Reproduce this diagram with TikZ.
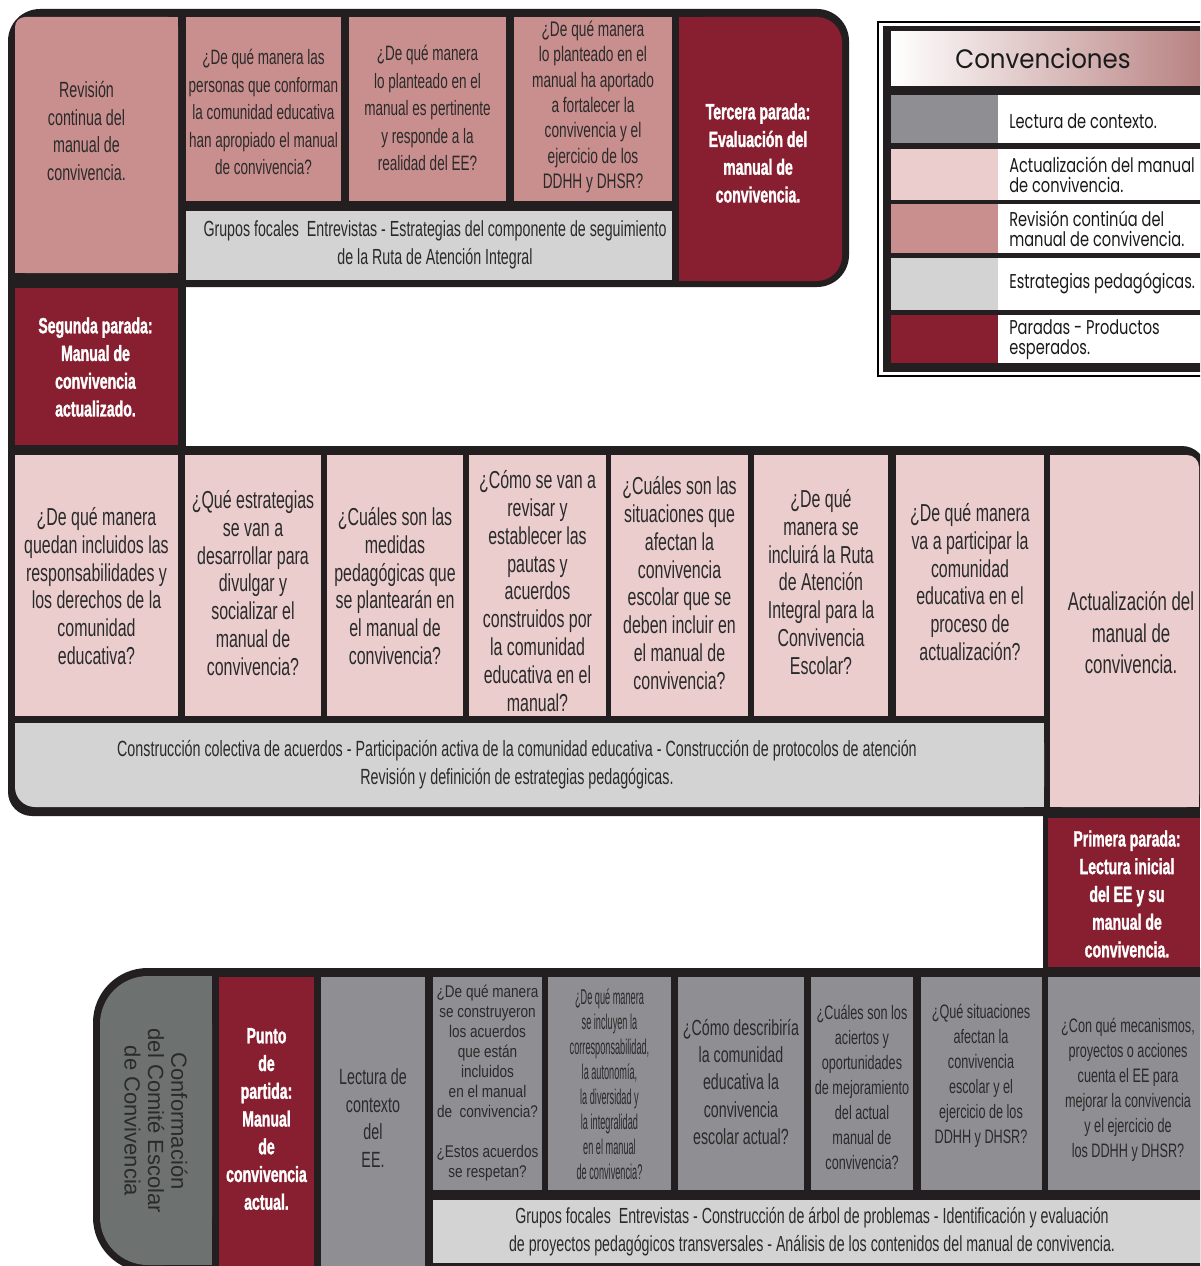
\documentclass[tikz,border=0pt]{standalone}
\usepackage{fontspec}
\setmainfont{Liberation Sans}
\newfontfamily\cond[FakeStretch=0.65]{Liberation Sans}
\newfontfamily\stopfont[FakeStretch=0.64,FakeBold=1.3]{Liberation Sans Bold}
\newfontfamily\semi[FakeStretch=0.8]{Liberation Sans}
\newfontfamily\vcond[FakeStretch=0.43]{Liberation Sans}
\newfontfamily\fut[FakeStretch=0.73]{Poppins}
\newfontfamily\futT[FakeStretch=0.92]{Poppins}
\definecolor{fr}{HTML}{231F20}
\definecolor{parada}{HTML}{871F30}
\definecolor{medpink}{HTML}{C98E8E}
\definecolor{ltpink}{HTML}{EBCDCE}
\definecolor{ltgray}{HTML}{D3D3D3}
\definecolor{midgray}{HTML}{8F8F93}
\definecolor{dkgray}{HTML}{6D7271}
\definecolor{txt}{HTML}{2A2A2A}
\definecolor{legtxt}{HTML}{1A1A1A}
\begin{document}
\begin{tikzpicture}[x=0.75pt,y=-0.75pt,
  tx/.style={inner sep=0pt, align=center, text=txt},
  tq/.style={tx, font=\cond\fontsize{15.6}{20.6}\selectfont},
  tm/.style={tx, font=\cond\fontsize{18.4}{20.85}\selectfont},
  tg/.style={tx, font=\cond\fontsize{16.4}{20.6}\selectfont},
  tb/.style={tx, font=\cond\fontsize{14.6}{18.75}\selectfont},
  tstop/.style={inner sep=0pt, align=center, text=white, font=\stopfont\fontsize{16.5}{20.8}\selectfont},
  leg/.style={inner sep=0pt, anchor=west, align=left, text=legtxt, font=\fut\fontsize{15}{15}\selectfont}]
\useasboundingbox (0,0) rectangle (1200,1266);
\clip (0,0) rectangle (1200,1266);
\fill[white] (0,0) rectangle (1200,1266);

% ---------- black frames ----------
\fill[fr, rounded corners=24pt] (8,9) rectangle (849,287);
\fill[fr] (8,250) rectangle (186,480);
\fill[fr, rounded corners=18pt] (8,446) rectangle (1206,816);
\fill[fr] (1043,780) rectangle (1200,990);
\fill[fr, rounded corners=41pt] (93,968) rectangle (1260,1272);

% ---------- top band ----------
\fill[medpink, rounded corners=7.5pt] (15,17) rectangle (178,273);
\fill[medpink] (15,35) rectangle (178,273);
\fill[medpink] (35,17) rectangle (178,273);
\fill[medpink] (186,17) rectangle (341,201);
\fill[medpink] (349,17) rectangle (506,201);
\fill[medpink] (514,17) rectangle (672,201);
\fill[ltgray] (186,211) rectangle (672,280);
\fill[parada, rounded corners=19pt] (679,17) rectangle (842,281);
\fill[parada] (679,17) rectangle (780,281);

% ---------- left column ----------
\fill[parada] (15,288) rectangle (178,445);

% ---------- middle band ----------
\fill[ltpink] (15,455) rectangle (178,716);
\fill[ltpink] (185,455) rectangle (321,716);
\fill[ltpink] (327,455) rectangle (463,716);
\fill[ltpink] (469,455) rectangle (606,716);
\fill[ltpink] (611,455) rectangle (748,716);
\fill[ltpink] (754,455) rectangle (888,716);
\fill[ltpink] (896,455) rectangle (1044,716);
\fill[ltpink, rounded corners=9pt] (1050,455) rectangle (1199,807);
\fill[ltpink] (1050,455) rectangle (1180,807);
\fill[ltpink] (1050,480) rectangle (1199,807);
\fill[ltgray, rounded corners=15pt] (15,723) rectangle (1044,807);
\fill[ltgray] (15,723) rectangle (1044,780);
\fill[ltgray] (50,723) rectangle (1044,807);

% ---------- right column ----------
\fill[parada] (1048,818) rectangle (1200,967);

% ---------- bottom band ----------
\fill[dkgray, rounded corners=36pt] (100,976) rectangle (212,1265);
\fill[dkgray] (160,976) rectangle (212,1265);
\fill[parada] (219,977) rectangle (314,1266);
\fill[midgray] (321,977) rectangle (425,1266);
\fill[midgray] (433,977) rectangle (542,1190);
\fill[midgray] (548,977) rectangle (671,1190);
\fill[midgray] (678,977) rectangle (804,1190);
\fill[midgray] (811,977) rectangle (913,1190);
\fill[midgray] (921,977) rectangle (1042,1190);
\fill[midgray] (1048,977) rectangle (1200,1190);
\fill[ltgray] (433,1200) rectangle (1200,1263);

% ---------- legend ----------
\draw[black, line width=1.1pt] (878,22) rectangle (1215,376);
\fill[fr] (883,26) rectangle (1215,372);
\shade[left color=white, right color=medpink!92!black] (891,32) rectangle (1200,86);
\fill[midgray] (891,95) rectangle (998,143);  \fill[white] (998,95) rectangle (1215,143);
\fill[ltpink] (891,149) rectangle (998,200);  \fill[white] (998,149) rectangle (1215,200);
\fill[medpink] (891,204) rectangle (998,253); \fill[white] (998,204) rectangle (1215,253);
\fill[ltgray] (891,258) rectangle (998,310);  \fill[white] (998,258) rectangle (1215,310);
\fill[parada] (891,315) rectangle (998,363);  \fill[white] (998,315) rectangle (1215,363);

\node[inner sep=0pt, text=legtxt, font=\futT\fontsize{20}{20}\selectfont] (legtitle) at (1043,58) {Convenciones};
\node[leg] (leg1) at (1009,121) {Lectura de contexto.};
\node[leg] (leg2) at (1009,175) {Actualización del manual\\de convivencia.};
\node[leg] (leg3) at (1009,229) {Revisión continúa del\\manual de convivencia.};
\node[leg] (leg4) at (1009,283) {Estrategias pedagógicas.};
\node[leg] (leg5) at (1009,340) {Paradas - Productos\\esperados.};

% ---------- texts: top band ----------
\node[tx, font=\cond\fontsize{16.5}{20.8}\selectfont] (rev) at (86.5,131) {Revisión\\continua del\\manual de\\convivencia.};
\node[tq] (q1) at (263.5,112) {¿De qué manera las\\personas que conforman\\la comunidad educativa\\han apropiado el manual\\de convivencia?};
\node[tq] (q2) at (427.5,108) {¿De qué manera\\lo planteado en el\\manual es pertinente\\y responde a la\\realidad del EE?};
\node[tx, font=\cond\fontsize{15.8}{19}\selectfont] (q3) at (593,107) {¿De qué manera\\lo planteado en el\\manual ha aportado\\a fortalecer la\\convivencia y el\\ejercicio de los\\DDHH y DHSR?};
\node[tg] (g1) at (435,245) {Grupos focales\ \ Entrevistas - Estrategias del componente de seguimiento\\de la Ruta de Atención Integral};
\node[tstop] (ter) at (758,153) {Tercera parada:\\Evaluación del\\manual de\\convivencia.};
\node[tstop] (seg) at (95.5,367) {Segunda parada:\\Manual de\\convivencia\\actualizado.};

% ---------- texts: middle band ----------
\node[tm] (m1) at (96.5,586) {¿De qué manera\\quedan incluidos las\\responsabilidades y\\los derechos de la\\comunidad\\educativa?};
\node[tm] (m2) at (253,583) {¿Qué estrategias\\se van a\\desarrollar para\\divulgar y\\socializar el\\manual de\\convivencia?};
\node[tm] (m3) at (395,586) {¿Cuáles son las\\medidas\\pedagógicas que\\se plantearán en\\el manual de\\convivencia?};
\node[tm] (m4) at (537.5,591) {¿Cómo se van a\\revisar y\\establecer las\\pautas y\\acuerdos\\construidos por\\la comunidad\\educativa en el\\manual?};
\node[tm] (m5) at (679.5,583) {¿Cuáles son las\\situaciones que\\afectan la\\convivencia\\escolar que se\\deben incluir en\\el manual de\\convivencia?};
\node[tm] (m6) at (821,582) {¿De qué\\manera se\\incluirá la Ruta\\de Atención\\Integral para la\\Convivencia\\Escolar?};
\node[tm] (m7) at (970,582) {¿De qué manera\\va a participar la\\comunidad\\educativa en el\\proceso de\\actualización?};
\node[tx, font=\cond\fontsize{19.4}{23.6}\selectfont] (act) at (1131,633) {Actualización del\\manual de\\convivencia.};
\node[tx, font=\cond\fontsize{16.5}{21}\selectfont] (g2) at (517,765) {Construcción colectiva de acuerdos - Participación activa de la comunidad educativa - Construcción de protocolos de atención\\Revisión y definición de estrategias pedagógicas.};

% ---------- texts: right column ----------
\node[tstop] (pri) at (1127,894) {Primera parada:\\Lectura inicial\\del EE y su\\manual de\\convivencia.};

% ---------- texts: bottom band ----------
\node[tx, rotate=-90, font=\fontsize{16.5}{17.6}\selectfont] (conf) at (156,1121) {Conformación\\del Comité Escolar\\de Convivencia};
\node[tstop] (pp) at (266.5,1119) {Punto\\de\\partida:\\Manual\\de\\convivencia\\actual.};
\node[tx, font=\cond\fontsize{16.5}{20.6}\selectfont] (lec) at (373,1118) {Lectura de\\contexto\\del\\EE.};
\node[tx, font=\semi\fontsize{12.7}{15}\selectfont] (b1) at (487.5,1083) {¿De qué manera\\se construyeron\\los acuerdos\\que están\\incluidos\\en el manual\\de\ \ convivencia?\\[15pt]¿Estos acuerdos\\se respetan?};
\node[tx, font=\vcond\fontsize{16}{18.75}\selectfont] (b2) at (609.5,1084.5) {¿De qué manera\\se incluyen la\\corresponsabilidad,\\la autonomía,\\la diversidad y\\la integralidad\\en el manual\\de convivencia?};
\node[tx, font=\cond\fontsize{16.4}{20.6}\selectfont] (b3) at (741,1082) {¿Cómo describiría\\la comunidad\\educativa la\\convivencia\\escolar actual?};
\node[tb] (b4) at (862,1087) {¿Cuáles son los\\aciertos y\\oportunidades\\de mejoramiento\\del actual\\manual de\\convivencia?};
\node[tb] (b5) at (981,1076) {¿Qué situaciones\\afectan la\\convivencia\\escolar y el\\ejercicio de los\\DDHH y DHSR?};
\node[tb] (b6) at (1128,1090) {¿Con qué mecanismos,\\proyectos o acciones\\cuenta el EE para\\mejorar la convivencia\\y el ejercicio de\\los DDHH y DHSR?};
\node[tg] (g3) at (812,1231.5) {Grupos focales\ \ Entrevistas - Construcción de árbol de problemas - Identificación y evaluación\\de proyectos pedagógicos transversales - Análisis de los contenidos del manual de convivencia.};
\end{tikzpicture}
\end{document}
